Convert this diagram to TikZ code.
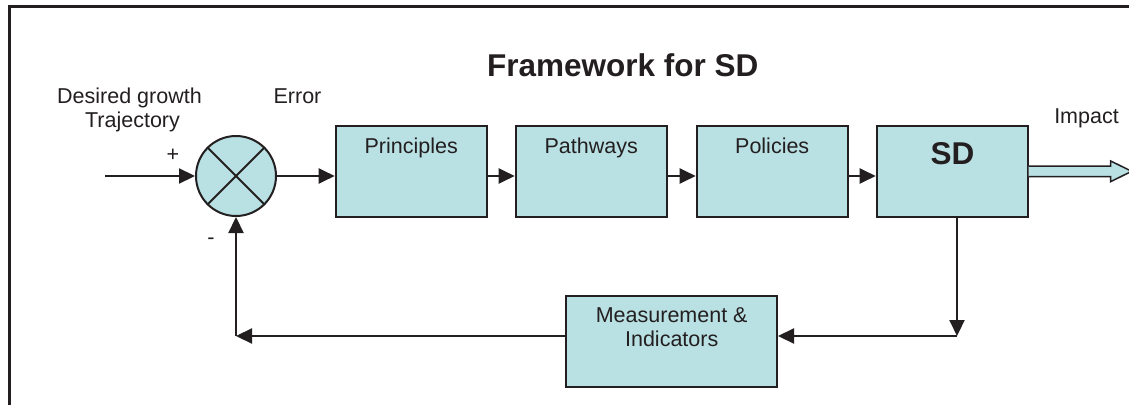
\documentclass[tikz,border=0pt]{standalone}
\usepackage{fontspec}
\setmainfont{Liberation Sans}
\usetikzlibrary{arrows.meta,calc}
\definecolor{blockfill}{RGB}{185,224,227}
\definecolor{ink}{RGB}{35,31,32}
\tikzset{
  blk/.style={draw=ink, fill=blockfill, line width=2pt, rectangle, inner sep=0pt,
              minimum width=151pt, minimum height=91pt},
  lbl/.style={text=ink, inner sep=0pt, anchor=base, font=\fontsize{21.5}{24}\selectfont},
  biglbl/.style={text=ink, inner sep=0pt, anchor=base, font=\fontsize{31.5}{36}\selectfont\bfseries},
  arr/.style={draw=ink, line width=2.2pt, -{Triangle[length=16pt,width=15pt]}},
  plainline/.style={draw=ink, line width=2pt},
}
\begin{document}
\begin{tikzpicture}[x=1pt,y=-1pt]
\useasboundingbox (0,0) rectangle (1129,404);
\clip (0,0) rectangle (1129,404);

% outer frame
\draw[ink, line width=3pt] (9.7,420) |- (1140,6.7);

% title
\node[biglbl, anchor=base west] (title) at (487,77) {Framework for SD};

% summing junction
\node[draw=ink, fill=blockfill, line width=2pt, circle, minimum size=80pt, inner sep=0pt] (sum) at (236,176) {};
\draw[plainline] (sum.45) -- (sum.225);
\draw[plainline] (sum.135) -- (sum.315);

% forward path blocks
\node[blk] (p1) at (411.2,171.5) {};
\node[blk] (p2) at (591.2,171.5) {};
\node[blk] (p3) at (772.2,171.5) {};
\node[blk] (sd) at (952.2,171.5) {};
\node[lbl] (p1t) at (411.2,153) {Principles};
\node[lbl] (p2t) at (591.2,153) {Pathways};
\node[lbl] (p3t) at (772.2,153) {Policies};
\node[biglbl] (sdt) at (952.5,164) {SD};

% feedback block
\node[blk, minimum width=211pt] (meas) at (671.5,341.5) {};
\node[lbl] (meast1) at (671.7,322.7) {Measurement \&};
\node[lbl] (meast2) at (671.7,346.7) {Indicators};

% texts around the junction
\node[lbl] (desired) at (129.5,103) {Desired growth};
\node[lbl] (traj) at (132.5,127) {Trajectory};
\node[lbl] (err) at (297.5,103) {Error};
\node[lbl] (plus) at (173,161.5) {+};
\node[lbl] (minus) at (211,244) {-};
\node[lbl] (impact) at (1086.5,123.3) {Impact};

% forward connectors
\coordinate (inp) at (105,176);
\draw[arr] (inp) -- (sum.west);
\draw[arr] (sum.east) -- (p1.west |- sum.east);
\draw[arr] (p1.east |- sum.east) -- (p2.west |- sum.east);
\draw[arr] (p2.east |- sum.east) -- (p3.west |- sum.east);
\draw[arr] (p3.east |- sum.east) -- (sd.west |- sum.east);

% impact output arrow
\draw[draw=ink, fill=blockfill, line width=1.5pt, line join=miter]
  ($(sd.east)+(0,-5.5)$) -- ++(82,0) -- ++(0,-5) -- ++(21,10.3) -- ++(-21,10.3) -- ++(0,-5) -- ++(-82,0);

% feedback connectors
\coordinate (c1) at (957,336);
\coordinate (c2) at (236,336);
\draw[arr] (sd.south -| c1) -- (c1);
\draw[arr] (c1) -- (meas.east |- c1);
\draw[arr] (meas.west |- c2) -- (c2);
\draw[arr] (c2) -- (sum.south);
\end{tikzpicture}
\end{document}
